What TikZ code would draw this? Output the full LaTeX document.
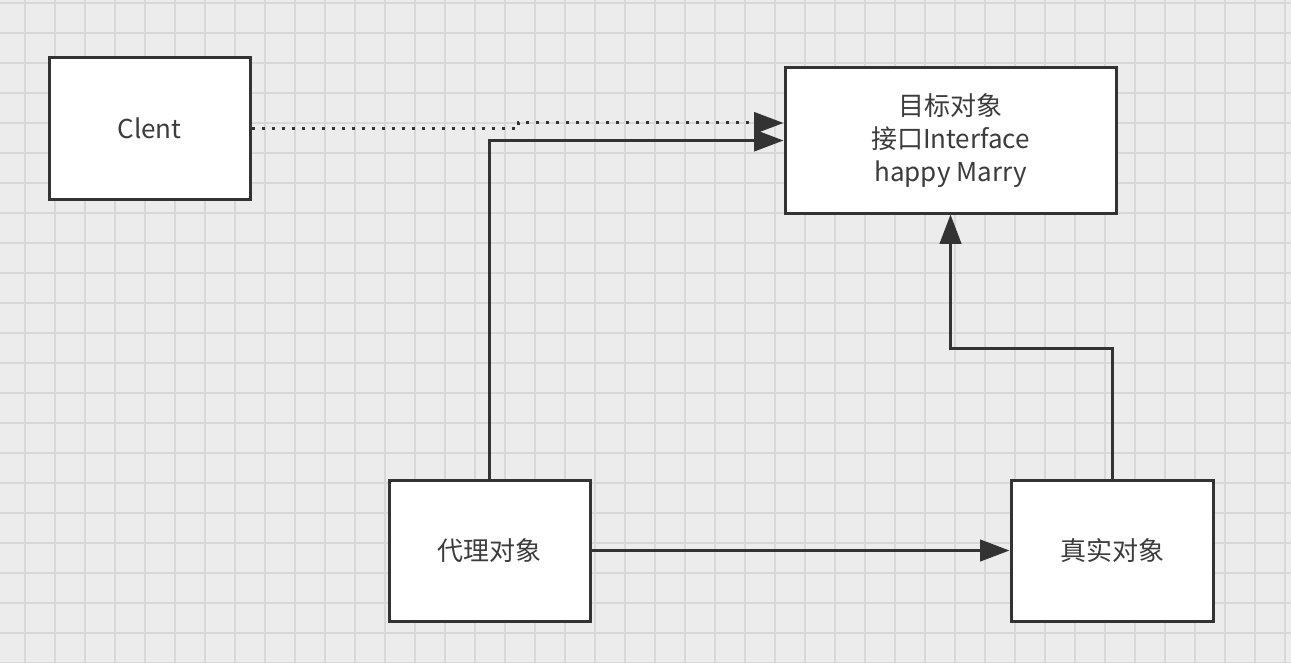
\documentclass[tikz,border=0pt]{standalone}
\usepackage{fontspec}
\setmainfont{Noto Sans CJK SC}
\usetikzlibrary{arrows.meta}
\definecolor{bg}{HTML}{ECECEC}
\definecolor{gridc}{HTML}{D8D8D8}
\definecolor{ink}{HTML}{333333}
\definecolor{txt}{HTML}{3C3C3C}
\tikzset{
  box/.style={draw=ink, line width=2.25pt, fill=white, inner sep=0pt, align=center,
    font=\fontsize{19.5pt}{24.75pt}\selectfont, text=txt},
  conn/.style={draw=ink, line width=2.25pt, -{Triangle[length=22pt,width=16pt]}},
  dotconn/.style={conn, dash pattern=on 2.25pt off 5.25pt},
}
\begin{document}
\begin{tikzpicture}[x=0.75pt,y=-0.75pt]
\fill[bg] (0,0) rectangle (1291,663);
\useasboundingbox (0,0) rectangle (1291,663);
\foreach \x in {25,55,...,1285} \draw[gridc,line width=1pt] (\x,0) -- (\x,663);
\foreach \y in {3,33,...,663} \draw[gridc,line width=1pt] (0,\y) -- (1291,\y);

\node[box, minimum width=150.75pt, minimum height=105.75pt] (clent) at (149.5,128.5) {Clent};
\node[box, minimum width=248.25pt, minimum height=108.75pt] (target) at (950.5,140.5) {目标对象\\接口Interface\\happy Marry};
\node[box, minimum width=150.75pt, minimum height=105.75pt] (proxy) at (489.5,550.5) {代理对象};
\node[box, minimum width=151.5pt, minimum height=105.75pt] (real) at (1112,550.5) {真实对象};

\coordinate (d1) at (518,123);
\coordinate (bend) at (950.5,348);

\draw[dotconn] (clent.east) -- (clent.east -| d1) -- (d1) -- (d1 -| target.west);
\draw[conn] (proxy.north) |- (target.west);
\draw[conn] (proxy.east) -- (real.west);
\draw[conn] (real.north) |- (bend) -- (target.south);
\end{tikzpicture}
\end{document}
